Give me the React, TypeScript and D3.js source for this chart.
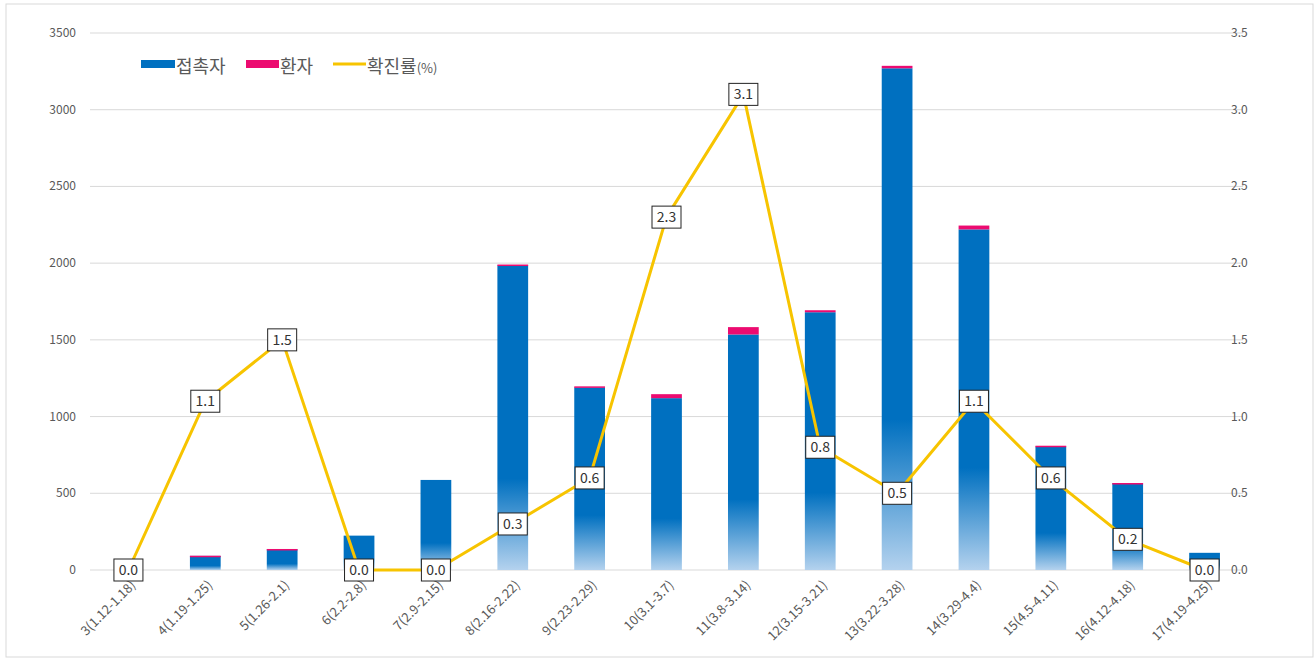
import React from "react";
import * as d3 from "d3";

const categories = [
  "3(1.12-1.18)", "4(1.19-1.25)", "5(1.26-2.1)", "6(2.2-2.8)", "7(2.9-2.15)",
  "8(2.16-2.22)", "9(2.23-2.29)", "10(3.1-3.7)", "11(3.8-3.14)", "12(3.15-3.21)",
  "13(3.22-3.28)", "14(3.29-4.4)", "15(4.5-4.11)", "16(4.12-4.18)", "17(4.19-4.25)",
];
const contacts = [0, 92, 135, 224, 587, 1985, 1190, 1120, 1535, 1680, 3270, 2220, 805, 566, 112];
const patients = [0, 1, 2, 0, 0, 6, 7, 26, 48, 13, 16, 25, 5, 1, 0];
const rates = [0.0, 1.1, 1.5, 0.0, 0.0, 0.3, 0.6, 2.3, 3.1, 0.8, 0.5, 1.1, 0.6, 0.2, 0.0];
const leftTicks = [0, 500, 1000, 1500, 2000, 2500, 3000, 3500];
const rightTicks = [0, 0.5, 1, 1.5, 2, 2.5, 3, 3.5];
const legendLabels = ["접촉자", "환자", "확진률"];

const W = 1316, H = 660;
const left = 90, right = 1243, top = 33, bottom = 570;
const BLUE = "#0070C0", PINK = "#EC0B70", YELLOW = "#F7C400", GRID = "#D9D9D9", TXT = "#595959";
const FONT = "'Noto Sans CJK KR', 'Noto Sans', sans-serif";

export default function App() {
  const x = d3.scaleBand().domain(categories).range([left, right]).paddingInner(0.6).paddingOuter(0.3);
  const xc = (c: string) => (x(c) as number) + x.bandwidth() / 2;
  const yL = d3.scaleLinear().domain([0, 3500]).range([bottom, top]);
  const yR = d3.scaleLinear().domain([0, 3.5]).range([bottom, top]);
  const line = d3.line<number>().x((_, i) => xc(categories[i])).y((d) => yR(d));
  const bw = x.bandwidth();

  return (
    <svg width={W} height={H} style={{ position: "absolute", left: 0, top: 0, background: "#fff" }}>
      <defs>
        <linearGradient id="bg" x1="0" y1="0" x2="0" y2="1">
          <stop offset="0" stopColor={BLUE} />
          <stop offset="0.7" stopColor={BLUE} />
          <stop offset="1" stopColor="#B4D2EE" />
        </linearGradient>
      </defs>
      <rect x={6} y={4} width={1307} height={653} fill="#fff" stroke="#D9D9D9" />
      {leftTicks.map((t) => (
        <g key={"l" + t}>
          <line x1={left} x2={right} y1={yL(t)} y2={yL(t)} stroke={GRID} strokeWidth={1} />
          <text x={76} y={yL(t) + 4} textAnchor="end" fontSize={12} fill={TXT} fontFamily={FONT}>{t}</text>
        </g>
      ))}
      {rightTicks.map((t) => (
        <text key={"r" + t} x={1231} y={yR(t) + 4} textAnchor="start" fontSize={12} fill={TXT} fontFamily={FONT}>
          {t.toFixed(1)}
        </text>
      ))}
      {categories.map((c, i) => (
        <g key={c}>
          {contacts[i] > 0 && (
            <rect x={x(c)} y={yL(contacts[i])} width={bw} height={yL(0) - yL(contacts[i])} fill="url(#bg)" />
          )}
          {patients[i] > 0 && (
            <rect x={x(c)} y={yL(contacts[i] + patients[i])} width={bw}
              height={Math.max(1.5, yL(contacts[i]) - yL(contacts[i] + patients[i]))} fill={PINK} />
          )}
          <text transform={`translate(${xc(c) + 8},${bottom + 16}) rotate(-45)`} textAnchor="end"
            fontSize={13} fill={TXT} fontFamily={FONT}>{c}</text>
        </g>
      ))}
      <path d={line(rates) || ""} fill="none" stroke={YELLOW} strokeWidth={3} strokeLinejoin="round" />
      {rates.map((r, i) => {
        const cx = xc(categories[i]);
        const cy = yR(r);
        return (
          <g key={"lab" + i}>
            <rect x={cx - 14.5} y={cy - 11} width={29} height={22} fill="#fff" stroke="#222" strokeWidth={1} />
            <text x={cx} y={cy + 5} textAnchor="middle" fontSize={14} fill="#333" fontFamily={FONT}>
              {r.toFixed(1)}
            </text>
          </g>
        );
      })}
      <g fontFamily={FONT} fill={TXT}>
        <rect x={141} y={60} width={34} height={8} fill={BLUE} />
        <text x={176} y={73} fontSize={18}>{legendLabels[0]}</text>
        <rect x={246} y={60} width={33} height={8} fill={PINK} />
        <text x={280} y={73} fontSize={18}>{legendLabels[1]}</text>
        <line x1={333} x2={366} y1={64} y2={64} stroke={YELLOW} strokeWidth={3} />
        <text x={367} y={73} fontSize={18}>{legendLabels[2]}<tspan fontSize={13}>(%)</tspan></text>
      </g>
    </svg>
  );
}
